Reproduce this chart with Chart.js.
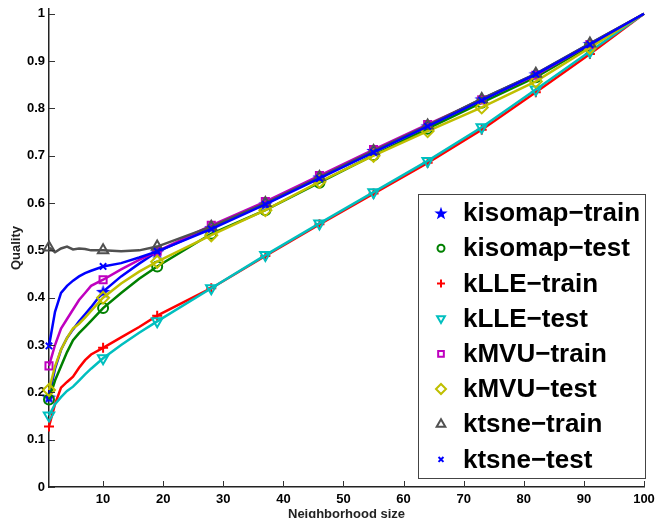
<!DOCTYPE html>
<html>
<head>
<meta charset="utf-8">
<script src="https://cdn.jsdelivr.net/npm/chart.js@4.4.1/dist/chart.umd.min.js"></script>
<style>
  html, body { margin: 0; padding: 0; background: #fff; }
  #wrap { width: 655px; height: 518px; }
</style>
</head>
<body>
<div id="wrap"><canvas id="quality-chart"></canvas></div>
<script>
// neighborhood sizes where the curves were sampled
const neighborhood = [1, 2, 3, 4, 5, 6, 7, 8, 10, 13, 16, 19, 28, 37, 46, 55, 64, 73, 82, 91, 100];
// markers only sit on every 9th neighborhood size
const markerSizes = [1, 10, 19, 28, 37, 46, 55, 64, 73, 82, 91];

const kisomapTrain = [0.19, 0.25, 0.29, 0.315, 0.333, 0.35, 0.365, 0.38, 0.413, 0.445, 0.472, 0.497, 0.548, 0.598, 0.655, 0.711, 0.763, 0.82, 0.873, 0.937, 1.0];
const kisomapTest  = [0.185, 0.225, 0.255, 0.285, 0.31, 0.325, 0.338, 0.351, 0.378, 0.41, 0.44, 0.466, 0.535, 0.585, 0.643, 0.701, 0.757, 0.812, 0.866, 0.932, 1.0];
const kLLETrain    = [0.128, 0.175, 0.21, 0.222, 0.233, 0.252, 0.268, 0.28, 0.294, 0.316, 0.338, 0.362, 0.42, 0.488, 0.555, 0.62, 0.685, 0.755, 0.834, 0.915, 1.0];
const kLLETest     = [0.151, 0.175, 0.19, 0.203, 0.212, 0.225, 0.238, 0.25, 0.272, 0.3, 0.326, 0.35, 0.42, 0.49, 0.557, 0.623, 0.689, 0.76, 0.84, 0.92, 1.0];
const kMVUTrain    = [0.256, 0.30, 0.335, 0.355, 0.375, 0.395, 0.41, 0.425, 0.438, 0.46, 0.48, 0.498, 0.553, 0.603, 0.658, 0.713, 0.766, 0.818, 0.87, 0.935, 1.0];
const kMVUTest     = [0.205, 0.255, 0.29, 0.315, 0.335, 0.345, 0.358, 0.372, 0.40, 0.43, 0.455, 0.476, 0.532, 0.585, 0.645, 0.70, 0.752, 0.802, 0.857, 0.928, 1.0];
const ktsneTrain   = [0.506, 0.496, 0.504, 0.508, 0.502, 0.504, 0.503, 0.50, 0.50, 0.498, 0.50, 0.508, 0.55, 0.60, 0.655, 0.71, 0.764, 0.82, 0.873, 0.937, 1.0];
const ktsneTest    = [0.298, 0.37, 0.41, 0.425, 0.436, 0.445, 0.452, 0.457, 0.466, 0.473, 0.485, 0.498, 0.545, 0.597, 0.652, 0.707, 0.762, 0.817, 0.872, 0.935, 1.0];

const xTicks = [10, 20, 30, 40, 50, 60, 70, 80, 90, 100];
const yTicks = [0, 0.1, 0.2, 0.3, 0.4, 0.5, 0.6, 0.7, 0.8, 0.9, 1];

function makeStar(size, color) {
    const c = document.createElement('canvas');
    c.width = size; c.height = size;
    const g = c.getContext('2d');
    const cx = size / 2, cy = size / 2 + size * 0.05, ro = size / 2, ri = ro * 0.4;
    g.beginPath();
    for (let k = 0; k < 10; k++) {
        const r = k % 2 === 0 ? ro : ri;
        const a = -Math.PI / 2 + k * Math.PI / 5;
        const px = cx + r * Math.cos(a), py = cy + r * Math.sin(a);
        if (k === 0) g.moveTo(px, py); else g.lineTo(px, py);
    }
    g.closePath();
    g.fillStyle = color;
    g.fill();
    return c;
}
const starBig = makeStar(15, '#0000ff');
const starSmall = makeStar(14, '#0000ff');

const series = [
    { label: 'kisomap-train', data: kisomapTrain, color: '#0000ff', style: starBig, legendStyle: starSmall, rot: 0, r: 7, lr: 7 },
    { label: 'kisomap-test', data: kisomapTest, color: '#008000', style: 'circle', rot: 0, r: 5, lr: 3.5 },
    { label: 'kLLE-train', data: kLLETrain, color: '#ff0000', style: 'cross', rot: 0, r: 5, lr: 4 },
    { label: 'kLLE-test', data: kLLETest, color: '#00bfbf', style: 'triangle', rot: 180, r: 6, lr: 4.5 },
    { label: 'kMVU-train', data: kMVUTrain, color: '#bf00bf', style: 'rect', rot: 0, r: 5, lr: 4 },
    { label: 'kMVU-test', data: kMVUTest, color: '#bfbf00', style: 'rectRot', rot: 0, r: 6, lr: 5 },
    { label: 'ktsne-train', data: ktsneTrain, color: '#505050', style: 'triangle', rot: 0, r: 6, lr: 5 },
    { label: 'ktsne-test', data: ktsneTest, color: '#0000ff', style: 'crossRot', rot: 0, r: 4.5, lr: 3.5 }
];

const datasets = series.map((s, i) => ({
    label: s.label,
    data: neighborhood.map((x, j) => ({ x: x, y: s.data[j] })),
    borderColor: s.color,
    backgroundColor: s.color,
    borderWidth: 2.5,
    pointStyle: s.style,
    pointRotation: s.rot,
    pointBorderColor: s.color,
    pointBackgroundColor: 'rgba(0,0,0,0)',
    pointBorderWidth: 2,
    pointRadius: ctx => markerSizes.includes(ctx.raw && ctx.raw.x) ? s.r : 0,
    pointHoverRadius: 0,
    tension: 0,
    fill: false,
    clip: false,
    order: series.length - i
}));

const inwardTicks = {
    id: 'inwardTicks',
    afterDatasetsDraw(chart) {
        const { ctx, chartArea, scales } = chart;
        ctx.save();
        ctx.strokeStyle = '#333';
        ctx.lineWidth = 1;
        ctx.beginPath();
        xTicks.forEach(v => {
            const px = Math.round(scales.x.getPixelForValue(v)) + 0.5;
            ctx.moveTo(px, chartArea.bottom);
            ctx.lineTo(px, chartArea.bottom - 6);
        });
        yTicks.forEach(v => {
            const py = Math.round(scales.y.getPixelForValue(v)) + 0.5;
            ctx.moveTo(chartArea.left, py);
            ctx.lineTo(chartArea.left + 6, py);
        });
        ctx.stroke();
        ctx.restore();
    }
};

const boxLegend = {
    id: 'boxLegend',
    afterDraw(chart) {
        const { ctx, chartArea } = chart;
        const right = chartArea.right + 1, bottom = chartArea.bottom - 9;
        const w = 227, h = 284, left = right - w, top = bottom - h;
        ctx.save();
        ctx.fillStyle = '#fff';
        ctx.fillRect(left, top, w, h);
        ctx.strokeStyle = '#444';
        ctx.lineWidth = 1;
        ctx.strokeRect(Math.round(left) + 0.5, Math.round(top) + 0.5, w, h);
        ctx.font = 'bold 26px "Liberation Sans", Arial, sans-serif';
        ctx.textBaseline = 'middle';
        ctx.textAlign = 'left';
        series.forEach((s, i) => {
            const cy = top + 19 + i * 35.2;
            ctx.strokeStyle = s.color;
            ctx.fillStyle = 'rgba(0,0,0,0)';
            ctx.lineWidth = 2;
            Chart.helpers.drawPoint(ctx, {
                pointStyle: s.legendStyle || s.style,
                radius: s.lr,
                rotation: s.rot,
                borderWidth: 2
            }, left + 23, cy);
            ctx.fillStyle = '#000';
            ctx.fillText(s.label.replace('-', '\u2212'), left + 45, cy + 1);
        });
        ctx.restore();
    }
};

const tickFont = { family: '"Liberation Sans", Arial, sans-serif', size: 13, weight: 'bold' };

new Chart(document.getElementById('quality-chart'), {
    type: 'line',
    data: { datasets: datasets },
    options: {
        responsive: true,
        maintainAspectRatio: false,
        animation: false,
        layout: { padding: { left: 0, right: 11, top: 6, bottom: 0 } },
        plugins: {
            legend: { display: false },
            tooltip: { enabled: false }
        },
        scales: {
            x: {
                type: 'linear',
                min: 1,
                max: 100,
                afterBuildTicks: s => { s.ticks = xTicks.map(v => ({ value: v })); },
                afterFit: s => { s.height = 31; s.paddingLeft = 0; s.paddingRight = 0; },
                grid: { display: false, drawTicks: false },
                border: { display: true, color: '#222', width: 1.5 },
                ticks: { color: '#000', font: tickFont, padding: 5, maxRotation: 0 },
                title: { display: true, text: 'Neighborhood size', color: '#222',
                         font: { family: '"Liberation Sans", Arial, sans-serif', size: 13, weight: 'bold' },
                         padding: { top: 0, bottom: -4 } }
            },
            y: {
                type: 'linear',
                min: 0,
                max: 1.01,
                afterBuildTicks: s => { s.ticks = yTicks.map(v => ({ value: v })); },
                afterFit: s => { s.width = 49; s.paddingTop = 0; s.paddingBottom = 0; },
                grid: { display: false, drawTicks: false },
                border: { display: true, color: '#222', width: 1.5 },
                ticks: { color: '#000', font: tickFont, padding: 4,
                         callback: v => String(Math.round(v * 10) / 10) },
                title: { display: true, text: 'Quality', color: '#222',
                         font: { family: '"Liberation Sans", Arial, sans-serif', size: 13, weight: 'bold' },
                         padding: { top: 9, bottom: 0 } }
            }
        }
    },
    plugins: [inwardTicks, boxLegend]
});
</script>
</body>
</html>
